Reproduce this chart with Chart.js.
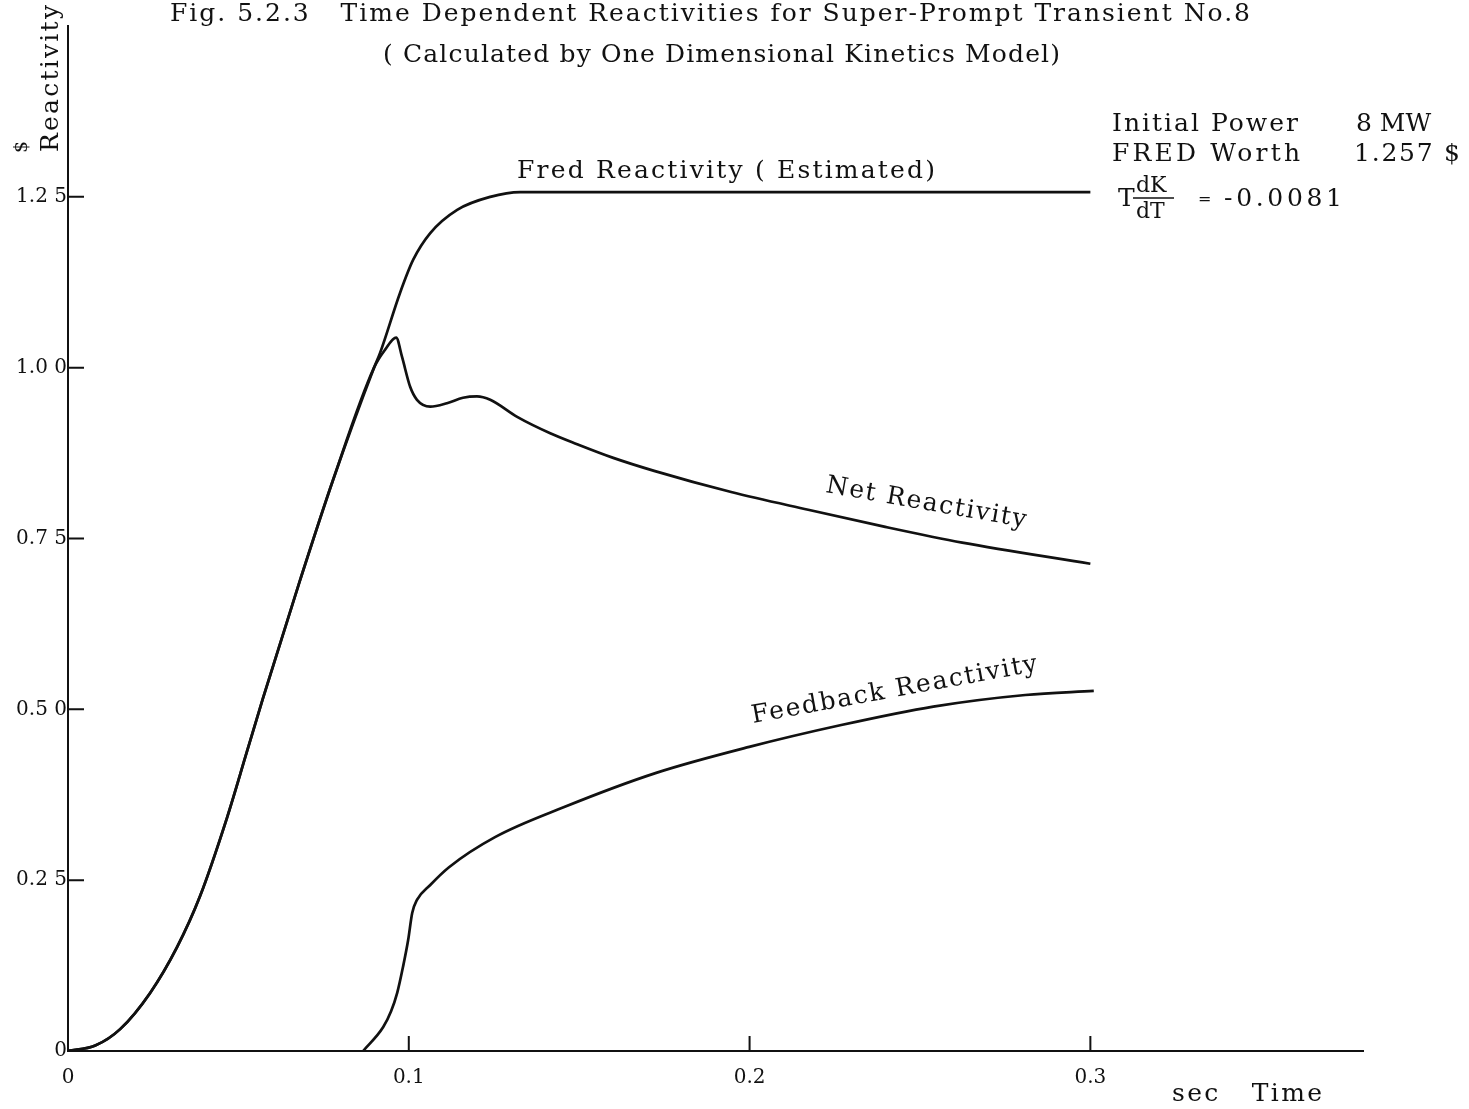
<!DOCTYPE html>
<html>
<head>
<meta charset="utf-8">
<script src="https://cdn.jsdelivr.net/npm/chart.js@4.4.1/dist/chart.umd.min.js"></script>
<style>
  html, body { margin: 0; padding: 0; background: #fff; }
  canvas { display: block; }
</style>
</head>
<body>
<canvas id="chart" width="1469" height="1109"></canvas>
<script>
// values (time in sec, reactivity in $)
const fredTime  = [0, 0.008, 0.0153, 0.0241, 0.032, 0.0387, 0.0467, 0.0525, 0.0572, 0.0681, 0.0778, 0.0898, 0.0916, 0.0974, 0.1013, 0.1063, 0.1142, 0.1239, 0.1327, 0.16, 0.2, 0.25, 0.3];
const fredValue = [0, 0.008, 0.032, 0.085, 0.152, 0.226, 0.342, 0.438, 0.516, 0.689, 0.836, 1.0, 1.022, 1.109, 1.158, 1.197, 1.231, 1.250, 1.257, 1.257, 1.257, 1.257, 1.257];

const netTime  = [0, 0.008, 0.0153, 0.0241, 0.032, 0.0387, 0.0467, 0.0525, 0.0572, 0.0681, 0.0778, 0.0898, 0.093, 0.0963, 0.098, 0.1004, 0.1024, 0.1063, 0.1112, 0.1159, 0.12, 0.1239, 0.1318, 0.1415, 0.1494, 0.16, 0.172, 0.1946, 0.2172, 0.2398, 0.2624, 0.3];
const netValue = [0, 0.008, 0.032, 0.085, 0.152, 0.226, 0.342, 0.438, 0.516, 0.689, 0.836, 1.0, 1.026, 1.044, 1.016, 0.972, 0.953, 0.943, 0.948, 0.956, 0.958, 0.953, 0.928, 0.904, 0.888, 0.868, 0.849, 0.818, 0.792, 0.767, 0.744, 0.713];

const fbTime  = [0.0866, 0.0925, 0.0948, 0.0966, 0.0983, 0.0998, 0.101, 0.1024, 0.1063, 0.1118, 0.1253, 0.1456, 0.1726, 0.1999, 0.2269, 0.2539, 0.2809, 0.301];
const fbValue = [0, 0.035, 0.058, 0.085, 0.123, 0.162, 0.202, 0.221, 0.243, 0.269, 0.313, 0.357, 0.407, 0.445, 0.477, 0.504, 0.521, 0.527];

const xTickValues = [0, 0.1, 0.2, 0.3];
const xTickLabels = ['0', '0.1', '0.2', '0.3'];
const yTickValues = [0, 0.25, 0.5, 0.75, 1.0, 1.25];
const yTickLabels = ['0', '0.2 5', '0.5 0', '0.7 5', '1.0 0', '1.2 5'];

const FONT = '"DejaVu Serif", "Liberation Serif", serif';
const INK = '#111';

function toPoints(xs, ys) {
    return xs.map((x, i) => ({ x: x, y: ys[i] }));
}

function lineSet(label, xs, ys) {
    return {
        label: label,
        data: toPoints(xs, ys),
        borderColor: INK,
        borderWidth: 2.7,
        pointRadius: 0,
        fill: false,
        cubicInterpolationMode: 'monotone'
    };
}

// text drawn with letter spacing so it spans the given width (0 = natural)
function spacedText(ctx, text, x, y, width, size, angle) {
    ctx.save();
    ctx.font = size + 'px ' + FONT;
    ctx.fillStyle = INK;
    ctx.textBaseline = 'alphabetic';
    ctx.letterSpacing = '0px';
    const w = ctx.measureText(text).width;
    if (width) {
        ctx.letterSpacing = ((width - w) / Math.max(text.length - 1, 1)) + 'px';
    }
    ctx.translate(x, y);
    if (angle) ctx.rotate(angle * Math.PI / 180);
    ctx.fillText(text, 0, 0);
    ctx.restore();
}

const paperPlugin = {
    id: 'paper',
    beforeDraw: function (chart) {
        const ctx = chart.ctx;
        ctx.save();
        ctx.fillStyle = '#fff';
        ctx.fillRect(0, 0, chart.width, chart.height);
        ctx.restore();
    },
    afterDraw: function (chart) {
        const ctx = chart.ctx;
        const xs = chart.scales.x;
        const ys = chart.scales.y;
        const area = chart.chartArea;

        // inward tick marks
        ctx.save();
        ctx.strokeStyle = INK;
        ctx.lineWidth = 2;
        ctx.beginPath();
        yTickValues.forEach(v => {
            if (v === 0) return;
            const py = ys.getPixelForValue(v);
            ctx.moveTo(area.left, py);
            ctx.lineTo(area.left + 16, py);
        });
        xTickValues.forEach(v => {
            if (v === 0) return;
            const px = xs.getPixelForValue(v);
            ctx.moveTo(px, area.bottom);
            ctx.lineTo(px, area.bottom - 15);
        });
        ctx.stroke();
        ctx.restore();

        // titles
        spacedText(ctx, 'Fig. 5.2.3   Time Dependent Reactivities for Super-Prompt Transient No.8', 170, 21, 1080, 25);
        spacedText(ctx, '( Calculated by One Dimensional Kinetics Model)', 383, 62, 677, 25);

        // axis titles
        spacedText(ctx, 'Reactivity', 58, 152, 147, 25, -90);
        spacedText(ctx, '$', 27, 153, 0, 19, -90);
        spacedText(ctx, 'sec   Time', 1172, 1101, 150, 25);

        // curve labels
        spacedText(ctx, 'Fred Reactivity ( Estimated)', 517, 178, 418, 25);
        spacedText(ctx, 'Net Reactivity', 825, 492, 203, 25, 10);
        spacedText(ctx, 'Feedback Reactivity', 753, 723, 290, 25, -10.4);

        // run parameters
        spacedText(ctx, 'Initial Power', 1112, 131, 186, 25);
        spacedText(ctx, '8 MW', 1356, 131, 0, 25);
        spacedText(ctx, 'FRED Worth', 1112, 161, 188, 25);
        spacedText(ctx, '1.257 $', 1354, 161, 106, 25);
        spacedText(ctx, 'T', 1118, 206, 0, 25);
        spacedText(ctx, 'dK', 1136, 192, 0, 22);
        spacedText(ctx, 'dT', 1136, 218, 0, 22);
        ctx.save();
        ctx.strokeStyle = INK;
        ctx.lineWidth = 1.6;
        ctx.beginPath();
        ctx.moveTo(1133, 198);
        ctx.lineTo(1174, 198);
        ctx.stroke();
        ctx.restore();
        spacedText(ctx, '=', 1198, 204, 0, 16);
        spacedText(ctx, '-0.0081', 1224, 206, 118, 25);
    }
};

const ctx = document.getElementById('chart').getContext('2d');

const myChart = new Chart(ctx, {
    type: 'line',
    data: {
        datasets: [
            lineSet('Fred Reactivity (Estimated)', fredTime, fredValue),
            lineSet('Net Reactivity', netTime, netValue),
            lineSet('Feedback Reactivity', fbTime, fbValue)
        ]
    },
    options: {
        responsive: false,
        animation: false,
        events: [],
        layout: { padding: { top: 26, right: 106, left: 0, bottom: 0 } },
        plugins: {
            legend: { display: false },
            title: { display: false },
            tooltip: { enabled: false }
        },
        scales: {
            x: {
                type: 'linear',
                min: 0,
                max: 0.38,
                afterBuildTicks: function (scale) {
                    scale.ticks = xTickValues.map(v => ({ value: v }));
                },
                afterFit: function (scale) {
                    scale.height = 58;
                },
                grid: { display: false, drawTicks: false },
                border: { display: true, color: INK, width: 2 },
                ticks: {
                    padding: 15,
                    maxRotation: 0,
                    autoSkip: false,
                    color: INK,
                    font: { family: FONT, size: 20 },
                    callback: function (value) {
                        return xTickLabels[xTickValues.indexOf(value)];
                    }
                }
            },
            y: {
                type: 'linear',
                min: 0,
                max: 1.5,
                afterBuildTicks: function (scale) {
                    scale.ticks = yTickValues.map(v => ({ value: v }));
                },
                afterFit: function (scale) {
                    scale.width = 68;
                },
                grid: { display: false, drawTicks: false },
                border: { display: true, color: INK, width: 2 },
                ticks: {
                    padding: 1,
                    autoSkip: false,
                    color: INK,
                    font: { family: FONT, size: 20 },
                    callback: function (value) {
                        return yTickLabels[yTickValues.indexOf(value)];
                    }
                }
            }
        }
    },
    plugins: [paperPlugin]
});
</script>
</body>
</html>
